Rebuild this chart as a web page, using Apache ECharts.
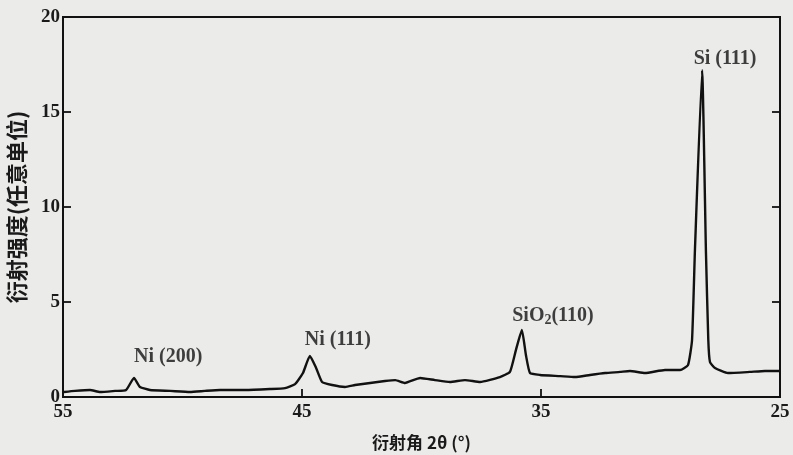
<!DOCTYPE html>
<html><head><meta charset="utf-8">
<script src="https://cdn.jsdelivr.net/npm/echarts@6/dist/echarts.min.js"></script>
<style>html,body{margin:0;padding:0;background:#ebebea;}#c{width:793px;height:455px;}</style>
</head><body><div id="c"></div>
<script>
// diffraction angle 2θ (degrees)
const angles = [54.96,54.5,53.87,53.45,52.82,52.36,52.03,51.78,51.36,50.52,49.69,49.06,48.43,47.38,46.34,45.71,45.29,44.96,44.67,44.41,44.16,43.74,43.2,42.78,42.15,41.53,41.1,40.69,40.06,39.44,38.81,38.18,37.55,36.72,36.3,36.05,35.8,35.63,35.46,35.04,34.2,33.58,32.95,32.32,31.69,31.28,30.65,29.81,29.18,28.85,28.68,28.56,28.26,28.1,28.0,27.93,27.72,27.18,26.26,25.63,25.0];
// diffraction intensity (arbitrary units)
const intensity = [0.26,0.32,0.37,0.26,0.32,0.37,1.0,0.53,0.37,0.32,0.26,0.32,0.37,0.37,0.42,0.47,0.68,1.26,2.16,1.53,0.79,0.63,0.53,0.63,0.74,0.84,0.89,0.74,1.0,0.89,0.79,0.89,0.79,1.05,1.32,2.47,3.53,2.2,1.26,1.16,1.1,1.05,1.16,1.26,1.32,1.37,1.26,1.42,1.42,1.68,3.0,7.7,17.2,7.7,3.0,1.84,1.53,1.26,1.32,1.37,1.37];
const xTicks = [25,35,45,55];
const yTicks = [0,5,10,15,20];
const peakNames = ['Ni(200)','Ni(111)','SiO2(110)','Si(111)'];
const peakLabelAngles = [50.6,43.5,34.5,27.3];
const peakLabelHeights = [2.1,3.0,4.26,17.8];

const X0 = xTicks[0];
const line = angles.map((a,i)=>[a-X0,intensity[i]]);
const labels = peakNames.map((n,i)=>({value:[peakLabelAngles[i]-X0,peakLabelHeights[i]],name:n}));
const serif = '"Liberation Serif","DejaVu Serif",serif';
const cjk = '"Noto Sans CJK SC","Noto Sans CJK JP",sans-serif';

const yCommon = {type:'value',min:yTicks[0],max:yTicks[yTicks.length-1],interval:5,
    axisLine:{show:true,onZero:false,lineStyle:{color:'#111',width:2}},
    axisTick:{show:true,inside:true,length:8,lineStyle:{color:'#111',width:1.8}},
    splitLine:{show:false}};

const chart = echarts.init(document.getElementById('c'),null,{renderer:'canvas'});
chart.setOption({
  backgroundColor:'#ebebea',
  animation:false,
  grid:{left:63,right:13,top:17,bottom:58,containLabel:false,outerBoundsMode:'none',
    show:true,borderColor:'#111',borderWidth:2,backgroundColor:'transparent'},
  xAxis:{type:'value',inverse:true,min:0,max:xTicks[xTicks.length-1]-X0,interval:10,
    axisLine:{show:true,onZero:false,lineStyle:{color:'#111',width:2}},
    axisTick:{show:true,inside:true,length:8,lineStyle:{color:'#111',width:1.8}},
    axisLabel:{formatter:v=>String(v+X0),color:'#1a1a1a',fontFamily:serif,fontSize:19,fontWeight:'bold',margin:6},
    splitLine:{show:false},
    name:'衍射角 2θ (°)',nameLocation:'middle',nameGap:37,
    nameTextStyle:{color:'#1a1a1a',fontFamily:cjk,fontSize:17,fontWeight:'bold'}},
  yAxis:[
    Object.assign({},yCommon,{position:'left',
      axisLabel:{color:'#1a1a1a',fontFamily:serif,fontSize:19,fontWeight:'bold',margin:3},
      name:'衍射强度(任意单位)',nameLocation:'middle',nameRotate:90,nameGap:35,
      nameTextStyle:{color:'#1a1a1a',fontFamily:cjk,fontSize:22,fontWeight:'bold'}}),
    Object.assign({},yCommon,{position:'right',axisLabel:{show:false}})
  ],
  series:[
    {type:'line',data:line,showSymbol:false,smooth:0.15,lineStyle:{color:'#111',width:2.4},z:3},
    {type:'scatter',data:labels,symbolSize:0,z:4,
      label:{show:true,position:'inside',color:'#111',fontFamily:serif,fontSize:20,fontWeight:'bold',
        formatter:p=>p.name==='SiO2(110)'?'SiO{s|2}(110)':p.name.replace('(',' ('),
        rich:{s:{fontFamily:serif,fontSize:14,fontWeight:'bold',verticalAlign:'bottom',padding:[9,0,0,0],color:'#111'}}}}
  ]
});
</script></body></html>
